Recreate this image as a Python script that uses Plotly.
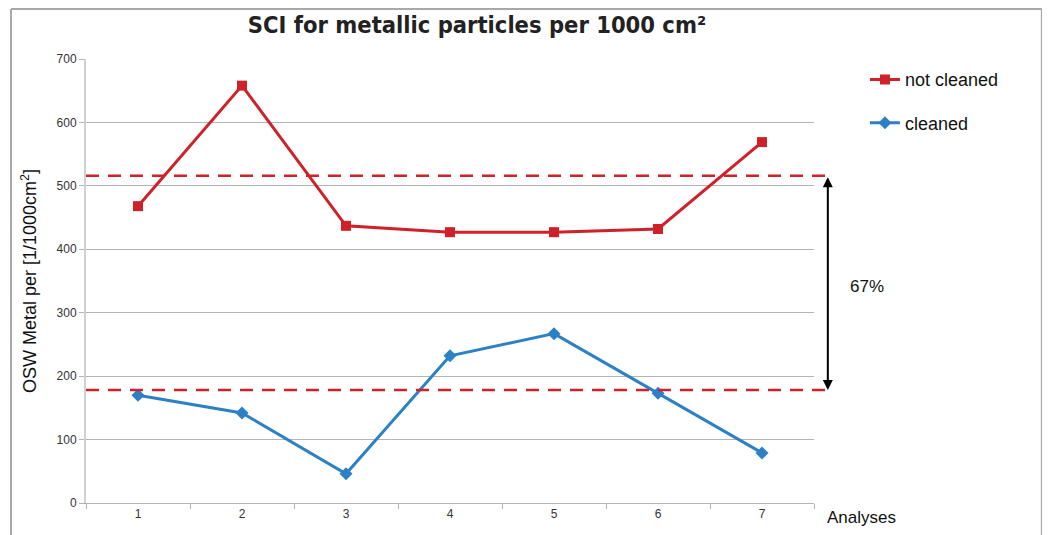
import plotly.graph_objects as go

analyses = [1, 2, 3, 4, 5, 6, 7]
not_cleaned = [468, 658, 437, 427, 427, 432, 569]
cleaned = [170, 142, 46, 232, 267, 173, 79]
upper_ref = 516
lower_ref = 178
reduction_label = "67%"
label_level = 341
y_ticks = [0, 100, 200, 300, 400, 500, 600, 700]

RED = "#cf2129"
BLUE = "#2b80c6"
GRID = "#b4b4b4"
FRAME = "#a8a8a8"

fig = go.Figure()
fig.add_trace(go.Scatter(
    x=analyses, y=not_cleaned, name="not cleaned", mode="lines+markers",
    line=dict(color=RED, width=3), marker=dict(symbol="square", size=10, color=RED),
    legendgroup="a"))
fig.add_trace(go.Scatter(
    x=analyses, y=cleaned, name="cleaned", mode="lines+markers",
    line=dict(color=BLUE, width=3), marker=dict(symbol="diamond", size=10, color=BLUE),
    legendgroup="b"))

for v in (upper_ref, lower_ref):
    fig.add_shape(type="line", xref="paper", yref="y", x0=0, x1=1.019, y0=v, y1=v,
                  line=dict(color=RED, width=2.5, dash="13px,9px"), layer="above")

# frame (left, top, right)
TOP = 1.1125
fig.add_shape(type="line", xref="paper", yref="paper", x0=-0.103, x1=-0.103, y0=-0.2, y1=TOP,
              line=dict(color=FRAME, width=2))
fig.add_shape(type="line", xref="paper", yref="paper", x0=1.313, x1=1.313, y0=-0.2, y1=TOP,
              line=dict(color=FRAME, width=2))
fig.add_shape(type="line", xref="paper", yref="paper", x0=-0.103, x1=1.313, y0=TOP, y1=TOP,
              line=dict(color=FRAME, width=2))

fig.add_annotation(xref="paper", yref="y", x=1.019, y=lower_ref, axref="pixel", ayref="y",
                   ax=0, ay=upper_ref, showarrow=True, arrowhead=2, startarrowhead=2,
                   arrowside="end+start", arrowwidth=2, arrowcolor="black", arrowsize=1,
                   standoff=0, startstandoff=0, text="")
fig.add_annotation(xref="paper", yref="y", x=1.047, y=label_level,
                   text=reduction_label, showarrow=False, xanchor="left", yanchor="middle",
                   font=dict(family="Liberation Sans", size=17, color="#111"))
fig.add_annotation(xref="paper", yref="paper", x=1.015, y=-0.032, text="Analyses",
                   showarrow=False, xanchor="left", yanchor="middle",
                   font=dict(family="Liberation Sans", size=17, color="#111"))

fig.update_layout(
    width=1050, height=535,
    margin=dict(l=78, r=244, t=51, b=40),
    paper_bgcolor="white", plot_bgcolor="white",
    title=dict(text="SCI for metallic particles per 1000 cm²", x=0.4467, xref="container",
               y=0.968, yref="container", xanchor="center", yanchor="middle",
               font=dict(family="DejaVu Sans Condensed", size=23.5, color="#222", weight="bold")),
    legend=dict(x=1.07, y=0.995, xanchor="left", yanchor="top", tracegroupgap=17,
                font=dict(family="Liberation Sans", size=18, color="#111"),
                bgcolor="rgba(0,0,0,0)"),
    showlegend=True,
)
fig.update_xaxes(range=[0.5, 7.5], tickvals=analyses, ticktext=[str(a) for a in analyses],
                 ticks="", showgrid=False, zeroline=False, showline=True, linecolor=GRID,
                 linewidth=1, tickfont=dict(family="Liberation Sans", size=12, color="#333"),
                 minor=dict(ticks="outside", tick0=0.5, dtick=1, ticklen=5, tickcolor=GRID,
                            showgrid=False))
fig.update_yaxes(range=[0, 700], tickvals=y_ticks, ticks="outside", ticklen=5, tickcolor=GRID,
                 showgrid=True, gridcolor=GRID, gridwidth=1, zeroline=False, showline=True,
                 linecolor="#d0d0d0", linewidth=2,
                 tickfont=dict(family="Liberation Sans", size=12, color="#333"),
                 title=dict(text="OSW Metal per [1/1000cm<sup>2</sup>]", standoff=15,
                            font=dict(family="Liberation Sans", size=18, color="#111")))

fig.write_html("out.html")
